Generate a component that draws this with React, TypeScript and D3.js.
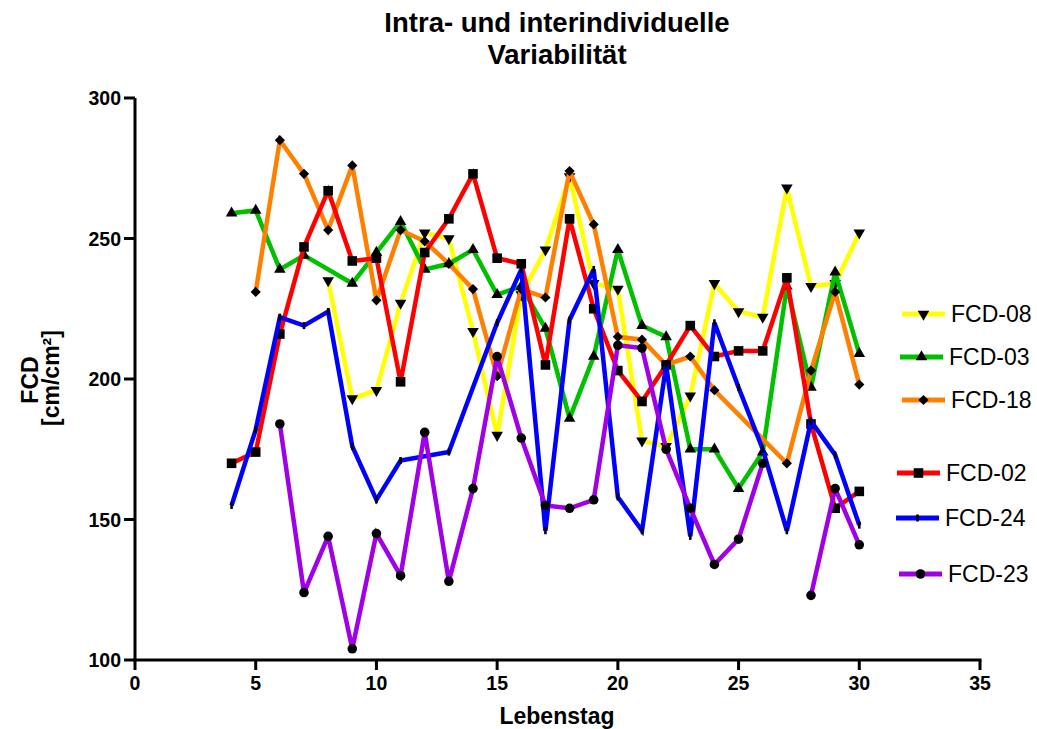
import React from "react";
import * as d3 from "d3";

// ---- data ----
const days = [4, 5, 6, 7, 8, 9, 10, 11, 12, 13, 14, 15, 16, 17, 18, 19, 20, 21, 22, 23, 24, 25, 26, 27, 28, 29, 30];

const fcd08 = [null, null, null, null, 235, 193, 196, 227, 252, 250, 217, 180, 230, 246, 272, 234, 232, 178, 176, 194, 234, 224, 222, 268, 233, 234, 252];
const fcd03 = [259, 260, 239, 244, null, 234, 245, 256, 239, 241, 246, 230, 233, 218, 186, 208, 246, 219, 215, 175, 175, 161, 174, 233, 197, 238, 209];
const fcd18 = [null, 231, 285, 273, 253, 276, 228, 253, 249, 241, 232, 201, 232, 229, 274, 255, 215, 214, 205, 208, 196, null, null, 170, 203, 231, 198];
const fcd02 = [170, 174, 216, 247, 267, 242, 243, 199, 245, 257, 273, 243, 241, 205, 257, 225, 203, 192, 205, 219, 208, 210, 210, 236, 184, 154, 160];
const fcd24 = [155, 182, 222, 219, 224, 176, 157, 171, null, 174, null, 220, 239, 146, 221, 239, 158, 146, 205, 144, 220, 197, 175, 146, 185, 173, 148];
const fcd23 = [null, null, 184, 124, 144, 104, 145, 130, 181, 128, 161, 208, 179, 155, 154, 157, 212, 211, 175, 154, 134, 143, 170, null, 123, 161, 141];

const seriesNames = ["FCD-08", "FCD-03", "FCD-18", "FCD-02", "FCD-24", "FCD-23"];
const seriesValues = [fcd08, fcd03, fcd18, fcd02, fcd24, fcd23];
// whether the line bridges missing values
const bridgeGaps = [true, true, true, true, true, false];

const xTicks = [0, 5, 10, 15, 20, 25, 30, 35];
const yTicks = [100, 150, 200, 250, 300];

const titleLines = ["Intra- und interindividuelle", "Variabilität"];
const xTitle = "Lebenstag";
const yTitleLines = ["FCD", "[cm/cm²]"];

// ---- styles ----
const colors = ["#FFFF00", "#00C000", "#FF8000", "#FF0000", "#0000FF", "#A000E6"];
const markerKinds = ["triangleDown", "triangleUp", "diamond", "square", "tick", "circle"];
const legendLayout = [
  { x1: 902, x2: 945, tx: 951, y: 314 },
  { x1: 900, x2: 943, tx: 949, y: 357 },
  { x1: 902, x2: 945, tx: 951, y: 400 },
  { x1: 897, x2: 940, tx: 946, y: 473 },
  { x1: 896, x2: 939, tx: 945, y: 518 },
  { x1: 899, x2: 942, tx: 948, y: 574 },
];

const FONT = "'Liberation Sans', Arial, Helvetica, sans-serif";

function Marker({ kind, x, y }: { kind: string; x: number; y: number }) {
  if (kind === "tick") {
    return <rect x={x - 1.3} y={y - 3.5} width={2.6} height={7} fill="#000" />;
  }
  let path = "";
  let rot = 0;
  if (kind === "triangleUp") path = d3.symbol().type(d3.symbolTriangle).size(58)() as string;
  if (kind === "triangleDown") {
    path = d3.symbol().type(d3.symbolTriangle).size(58)() as string;
    rot = 180;
  }
  if (kind === "square") path = d3.symbol().type(d3.symbolSquare).size(92)() as string;
  if (kind === "diamond") {
    path = d3.symbol().type(d3.symbolSquare).size(52)() as string;
    rot = 45;
  }
  if (kind === "circle") path = d3.symbol().type(d3.symbolCircle).size(72)() as string;
  return <path d={path} transform={`translate(${x},${y}) rotate(${rot})`} fill="#000" />;
}

export default function App() {
  const x = d3.scaleLinear().domain([0, 35]).range([135, 980]);
  const y = d3.scaleLinear().domain([100, 300]).range([660, 98]);

  return (
    <svg
      width={1037}
      height={729}
      style={{ position: "absolute", left: 0, top: 0, background: "#fff" }}
      fontFamily={FONT}
    >
      <rect width={1037} height={729} fill="#fff" />
      {/* title */}
      <text x={557} y={32} textAnchor="middle" fontSize={27.5} fontWeight="bold">
        {titleLines[0]}
      </text>
      <text x={557} y={64} textAnchor="middle" fontSize={27.5} fontWeight="bold">
        {titleLines[1]}
      </text>

      {/* series */}
      {seriesValues.map((vals, si) => {
        const pts = days.map((d, i) => [d, vals[i]] as [number, number | null]);
        const used = bridgeGaps[si] ? pts.filter((p) => p[1] != null) : pts;
        const line = d3
          .line<[number, number | null]>()
          .defined((p) => p[1] != null)
          .x((p) => x(p[0]))
          .y((p) => y(p[1] as number));
        return (
          <g key={seriesNames[si]}>
            <path
              d={line(used) as string}
              fill="none"
              stroke={colors[si]}
              strokeWidth={4.5}
              strokeLinejoin="miter"
              strokeMiterlimit={3}
            />
            {pts
              .filter((p) => p[1] != null)
              .map((p) => (
                <Marker key={p[0]} kind={markerKinds[si]} x={x(p[0])} y={y(p[1] as number)} />
              ))}
          </g>
        );
      })}

      {/* axes */}
      <line x1={135} x2={135} y1={y(300)} y2={y(100) + 1.5} stroke="#000" strokeWidth={3} />
      <line x1={x(0) - 1.5} x2={x(35) + 1.5} y1={660} y2={660} stroke="#000" strokeWidth={3} />
      {yTicks.map((t) => (
        <g key={"y" + t}>
          <line x1={124} x2={135} y1={y(t)} y2={y(t)} stroke="#000" strokeWidth={3} />
          <text x={121} y={y(t)} dy="0.36em" textAnchor="end" fontSize={19.5} fontWeight="bold">
            {t}
          </text>
        </g>
      ))}
      {xTicks.map((t) => (
        <g key={"x" + t}>
          <line x1={x(t)} x2={x(t)} y1={660} y2={670} stroke="#000" strokeWidth={3} />
          <text x={x(t)} y={690} textAnchor="middle" fontSize={19.5} fontWeight="bold">
            {t}
          </text>
        </g>
      ))}
      <text x={557} y={724} textAnchor="middle" fontSize={23} fontWeight="bold">
        {xTitle}
      </text>
      <text transform="translate(38,380) rotate(-90)" textAnchor="middle" fontSize={23} fontWeight="bold">
        {yTitleLines[0]}
      </text>
      <text transform="translate(59,378) rotate(-90)" textAnchor="middle" fontSize={23} fontWeight="bold">
        {yTitleLines[1]}
      </text>

      {/* legend */}
      {seriesNames.map((name, si) => {
        const L = legendLayout[si];
        return (
          <g key={"leg" + name}>
            <line x1={L.x1} x2={L.x2} y1={L.y} y2={L.y} stroke={colors[si]} strokeWidth={5} />
            <Marker kind={markerKinds[si]} x={(L.x1 + L.x2) / 2} y={L.y} />
            <text x={L.tx} y={L.y} dy="0.36em" fontSize={23}>
              {name}
            </text>
          </g>
        );
      })}
    </svg>
  );
}
